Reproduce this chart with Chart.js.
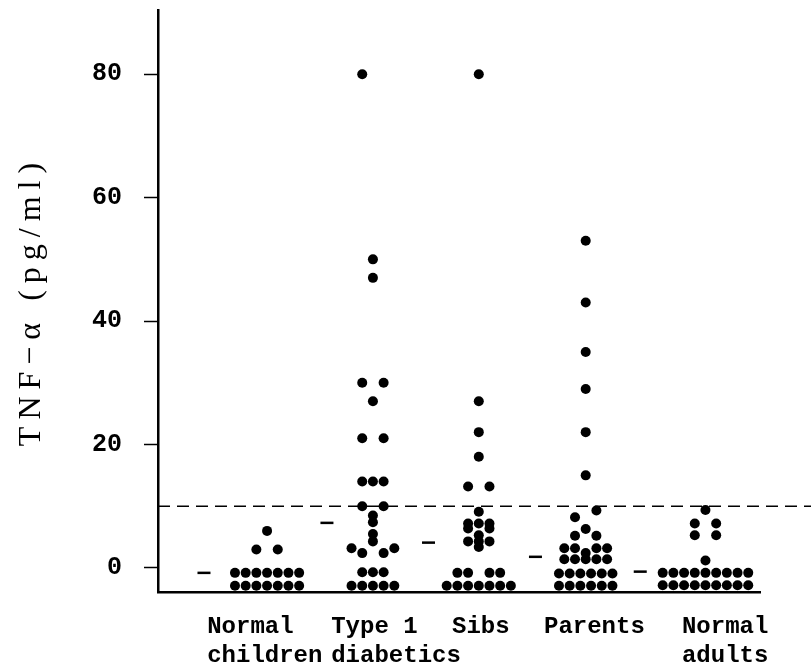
<!DOCTYPE html>
<html lang="en">
<head>
    <meta charset="UTF-8">
    <title>TNF-alpha levels by group</title>
    <script src="https://cdn.jsdelivr.net/npm/chart.js"></script>
    <style>
        html, body { margin: 0; padding: 0; background: #fff; }
        #wrap { width: 811px; height: 666px; }
    </style>
</head>
<body>
    <div id="wrap"><canvas id="tnfChart"></canvas></div>

    <script>
        // Groups and their axis labels
        const groupLabels = [['Normal', 'children'], ['Type 1', 'diabetics'], ['Sibs'], ['Parents'], ['Normal', 'adults']];
        const groupCenter = [10.2, 20.1, 30, 40, 51.2];    // x of each dot column
        const labelPos = [4.6, 16.2, 27.5, 36.1, 49.0];     // x where each group name starts

        // Group means (short dash to the left of each column)
        const meanPos = [4.3, 15.8, 25.3, 35.3, 45.1];
        const groupMean = [-0.8, 7.3, 4.1, 1.8, -0.6];

        // Detection cut-off (dashed line)
        const cutoff = 10;

        // y axis
        const yMin = -3.9;
        const yMax = 90.4;
        const yTicks = [0, 20, 40, 60, 80];

        // TNF-alpha values (pg/ml); undetectable samples are stacked below 0.
        // *Col = which dot column the point sits in, relative to the group centre.
        const normalChildren    = [6, 3, 3, -0.8, -0.8, -0.8, -0.8, -0.8, -0.8, -0.8, -2.9, -2.9, -2.9, -2.9, -2.9, -2.9, -2.9];
        const normalChildrenCol = [0, -1, 1, -3, -2, -1, 0, 1, 2, 3, -3, -2, -1, 0, 1, 2, 3];

        const type1    = [80, 50, 47, 30, 30, 27, 21, 21, 14, 14, 14, 10, 10, 8.5, 7.4, 5.5, 4.3, 3.2, 3.2, 2.4, 2.4, -0.7, -0.7, -0.7, -2.9, -2.9, -2.9, -2.9, -2.9];
        const type1Col = [-1, 0, 0, -1, 1, 0, -1, 1, -1, 0, 1, -1, 1, 0, 0, 0, 0, -2, 2, -1, 1, -1, 0, 1, -2, -1, 0, 1, 2];

        const sibs    = [80, 27, 22, 18, 13.2, 13.2, 9.1, 7.2, 7.2, 7.2, 6.4, 6.4, 5.3, 4.3, 4.3, 4.3, 3.4, -0.8, -0.8, -0.8, -0.8, -2.9, -2.9, -2.9, -2.9, -2.9, -2.9, -2.9];
        const sibsCol = [0, 0, 0, 0, -1, 1, 0, -1, 0, 1, -1, 1, 0, -1, 0, 1, 0, -2, -1, 1, 2, -3, -2, -1, 0, 1, 2, 3];

        const parents    = [53, 43, 35, 29, 22, 15, 9.3, 8.2, 6.3, 5.2, 5.2, 3.2, 3.2, 3.2, 3.2, 2.4, 1.4, 1.4, 1.4, 1.4, 1.4, -0.9, -0.9, -0.9, -0.9, -0.9, -0.9, -2.9, -2.9, -2.9, -2.9, -2.9, -2.9];
        const parentsCol = [0, 0, 0, 0, 0, 0, 1, -1, 0, -1, 1, -2, -1, 1, 2, 0, -2, -1, 0, 1, 2, -2.5, -1.5, -0.5, 0.5, 1.5, 2.5, -2.5, -1.5, -0.5, 0.5, 1.5, 2.5];

        const normalAdults    = [9.4, 7.2, 7.2, 5.3, 5.3, 1.2, -0.8, -0.8, -0.8, -0.8, -0.8, -0.8, -0.8, -0.8, -0.8, -2.8, -2.8, -2.8, -2.8, -2.8, -2.8, -2.8, -2.8, -2.8];
        const normalAdultsCol = [0, -1, 1, -1, 1, 0, -4, -3, -2, -1, 0, 1, 2, 3, 4, -4, -3, -2, -1, 0, 1, 2, 3, 4];

        const groupValues = [normalChildren, type1, sibs, parents, normalAdults];
        const groupCols = [normalChildrenCol, type1Col, sibsCol, parentsCol, normalAdultsCol];

        const dotSets = groupValues.map((vals, g) => ({
            data: vals.map((v, i) => ({ x: groupCenter[g] + groupCols[g][i], y: v })),
            backgroundColor: '#000',
            borderColor: '#000',
            pointRadius: 5,
            pointBorderWidth: 0
        }));

        const meanSet = {
            data: groupMean.map((m, g) => ({ x: meanPos[g], y: m })),
            pointStyle: 'line',
            pointRadius: 6.5,
            borderColor: '#000',
            pointBorderWidth: 2.5
        };

        // dashed cut-off line, runs past the plot to the page edge
        const cutoffLine = {
            id: 'cutoffLine',
            beforeDatasetsDraw(chart) {
                const { ctx, chartArea, scales } = chart;
                const y = scales.y.getPixelForValue(cutoff);
                ctx.save();
                ctx.strokeStyle = '#000';
                ctx.lineWidth = 1.5;
                ctx.setLineDash([12, 7]);
                ctx.beginPath();
                ctx.moveTo(chartArea.left, y);
                ctx.lineTo(chart.width, y);
                ctx.stroke();
                ctx.restore();
            }
        };

        // the y title in the original is set a little spaced out
        const spacedTitle = {
            id: 'spacedTitle',
            beforeDraw(chart) {
                const scale = chart.scales.y;
                if (scale._spaced) return;
                const drawTitle = scale.drawTitle.bind(scale);
                scale.drawTitle = function () {
                    this.ctx.save();
                    this.ctx.letterSpacing = '7px';
                    drawTitle();
                    this.ctx.restore();
                };
                scale._spaced = true;
            }
        };

        new Chart(document.getElementById('tnfChart'), {
            type: 'scatter',
            data: { datasets: [...dotSets, meanSet] },
            plugins: [cutoffLine, spacedTitle],
            options: {
                responsive: true,
                maintainAspectRatio: false,
                animation: false,
                layout: { padding: { top: 10, right: 51, left: 0, bottom: 0 } },
                plugins: {
                    legend: { display: false },
                    tooltip: { enabled: false }
                },
                scales: {
                    x: {
                        type: 'linear',
                        min: 0,
                        max: 56.3,
                        afterBuildTicks: (scale) => {
                            scale.ticks = labelPos.map(v => ({ value: v }));
                        },
                        afterFit: (scale) => {
                            scale.height = 74;
                            scale.paddingLeft = 0;
                            scale.paddingRight = 0;
                        },
                        grid: { display: false },
                        border: { display: true, color: '#000', width: 2.5 },
                        ticks: {
                            autoSkip: false,
                            maxRotation: 0,
                            align: 'start',
                            padding: 13,
                            color: '#000',
                            font: { family: 'Liberation Mono', size: 24, weight: 'bold', lineHeight: 1.2 },
                            callback: (value, index) => groupLabels[index]
                        }
                    },
                    y: {
                        min: yMin,
                        max: yMax,
                        afterBuildTicks: (scale) => {
                            scale.ticks = yTicks.map(v => ({ value: v }));
                        },
                        afterFit: (scale) => {
                            scale.width = 158;
                            scale.paddingTop = 0;
                            scale.paddingBottom = 0;
                        },
                        grid: {
                            drawOnChartArea: false,
                            drawTicks: true,
                            tickLength: 14,
                            tickColor: '#000',
                            tickWidth: 1.5
                        },
                        border: { display: true, color: '#000', width: 2.5 },
                        ticks: {
                            padding: 22,
                            color: '#000',
                            font: { family: 'Liberation Mono', size: 25, weight: 'bold' }
                        },
                        title: {
                            display: true,
                            text: 'TNF\u2212\u03b1 (pg/ml)',
                            color: '#000',
                            padding: { top: 12, bottom: 0 },
                            font: { family: 'Liberation Serif', size: 32 }
                        }
                    }
                }
            }
        });
    </script>
</body>
</html>
